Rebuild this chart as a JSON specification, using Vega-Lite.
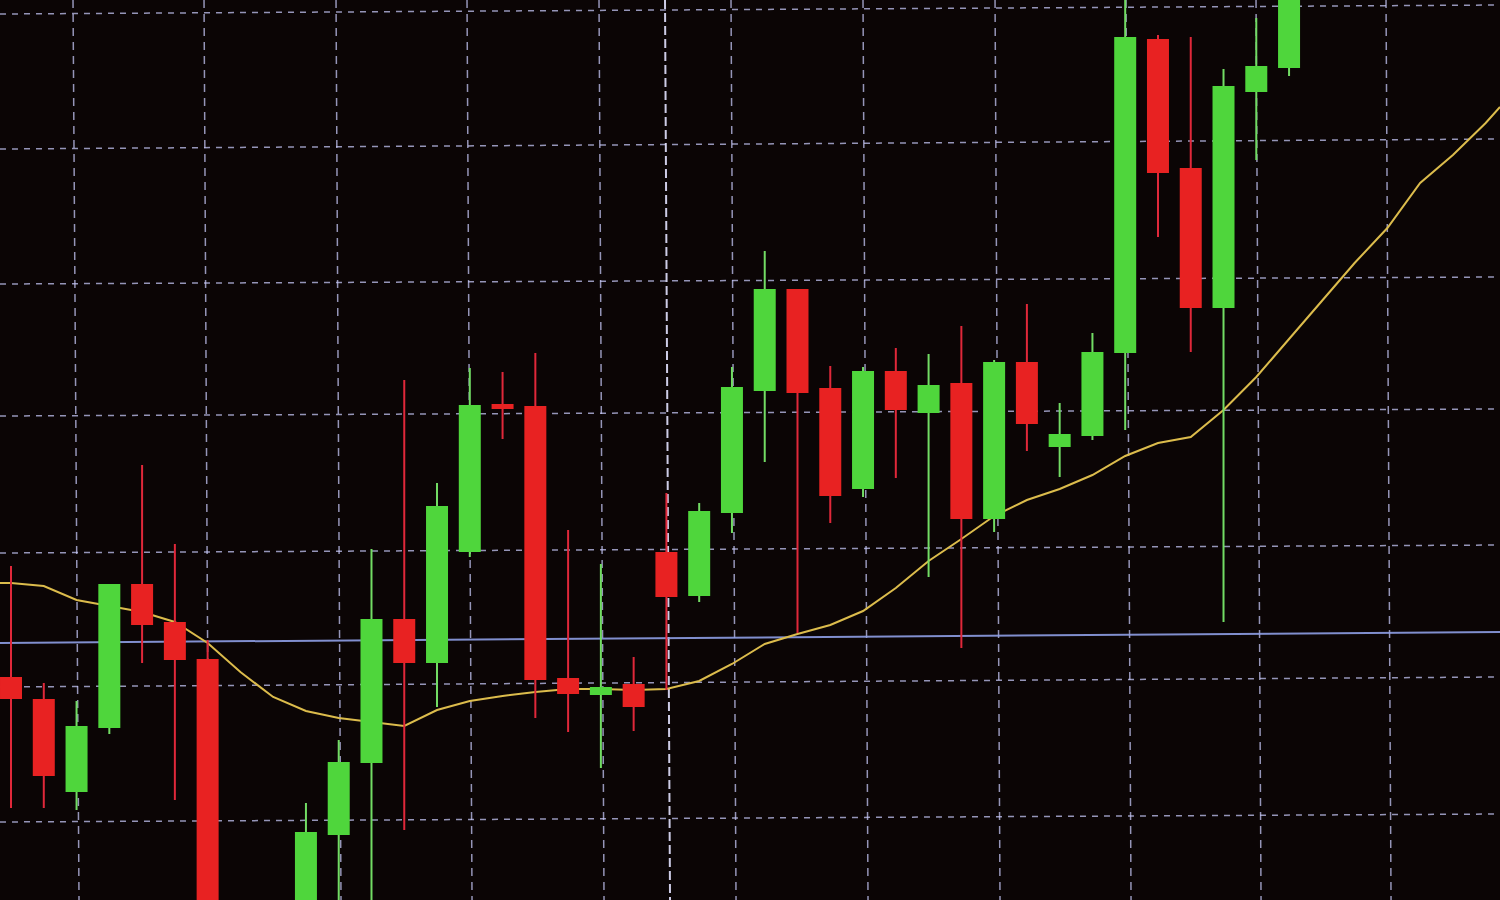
{
  "$schema": "https://vega.github.io/schema/vega-lite/v6.json",
  "width": 1500,
  "height": 900,
  "autosize": {"type": "fit", "contains": "padding"},
  "padding": 0,
  "background": "#0b0505",
  "config": {"view": {"stroke": null}, "scale": {"continuousPadding": 0}},
  "datasets": {
    "candles": [
      {"t": 0, "open": 223, "high": 334, "low": 92, "close": 201, "dir": "down"},
      {"t": 1, "open": 201, "high": 217, "low": 92, "close": 124, "dir": "down"},
      {"t": 2, "open": 108, "high": 199, "low": 90, "close": 174, "dir": "up"},
      {"t": 3, "open": 172, "high": 316, "low": 166, "close": 316, "dir": "up"},
      {"t": 4, "open": 316, "high": 435, "low": 237, "close": 275, "dir": "down"},
      {"t": 5, "open": 278, "high": 356, "low": 100, "close": 240, "dir": "down"},
      {"t": 6, "open": 241, "high": 260, "low": -80, "close": -60, "dir": "down"},
      {"t": 9, "open": -60, "high": 97, "low": -80, "close": 68, "dir": "up"},
      {"t": 10, "open": 65, "high": 160, "low": -40, "close": 138, "dir": "up"},
      {"t": 11, "open": 137, "high": 351, "low": -20, "close": 281, "dir": "up"},
      {"t": 12, "open": 281, "high": 520, "low": 70, "close": 237, "dir": "down"},
      {"t": 13, "open": 237, "high": 417, "low": 193, "close": 394, "dir": "up"},
      {"t": 14, "open": 348, "high": 532, "low": 343, "close": 495, "dir": "up"},
      {"t": 15, "open": 496, "high": 528, "low": 461, "close": 491, "dir": "down"},
      {"t": 16, "open": 494, "high": 547, "low": 182, "close": 220, "dir": "down"},
      {"t": 17, "open": 222, "high": 370, "low": 168, "close": 206, "dir": "down"},
      {"t": 18, "open": 205, "high": 336, "low": 132, "close": 213, "dir": "up"},
      {"t": 19, "open": 216, "high": 243, "low": 169, "close": 193, "dir": "down"},
      {"t": 20, "open": 348, "high": 407, "low": 210, "close": 303, "dir": "down"},
      {"t": 21, "open": 304, "high": 397, "low": 298, "close": 389, "dir": "up"},
      {"t": 22, "open": 387, "high": 533, "low": 367, "close": 513, "dir": "up"},
      {"t": 23, "open": 509, "high": 649, "low": 438, "close": 611, "dir": "up"},
      {"t": 24, "open": 611, "high": 611, "low": 267, "close": 507, "dir": "down"},
      {"t": 25, "open": 512, "high": 534, "low": 377, "close": 404, "dir": "down"},
      {"t": 26, "open": 411, "high": 533, "low": 403, "close": 529, "dir": "up"},
      {"t": 27, "open": 529, "high": 552, "low": 422, "close": 490, "dir": "down"},
      {"t": 28, "open": 487, "high": 546, "low": 323, "close": 515, "dir": "up"},
      {"t": 29, "open": 517, "high": 574, "low": 252, "close": 381, "dir": "down"},
      {"t": 30, "open": 381, "high": 540, "low": 368, "close": 538, "dir": "up"},
      {"t": 31, "open": 538, "high": 596, "low": 449, "close": 476, "dir": "down"},
      {"t": 32, "open": 453, "high": 497, "low": 423, "close": 466, "dir": "up"},
      {"t": 33, "open": 464, "high": 567, "low": 460, "close": 548, "dir": "up"},
      {"t": 34, "open": 547, "high": 930, "low": 470, "close": 863, "dir": "up"},
      {"t": 35, "open": 861, "high": 865, "low": 663, "close": 727, "dir": "down"},
      {"t": 36, "open": 732, "high": 863, "low": 548, "close": 592, "dir": "down"},
      {"t": 37, "open": 592, "high": 831, "low": 278, "close": 814, "dir": "up"},
      {"t": 38, "open": 808, "high": 882, "low": 740, "close": 834, "dir": "up"},
      {"t": 39, "open": 832, "high": 950, "low": 824, "close": 930, "dir": "up"}
    ],
    "ma": [
      {"t": -0.336, "ma": 317}, {"t": 0, "ma": 317}, {"t": 1, "ma": 314}, {"t": 2, "ma": 300},
      {"t": 3, "ma": 294}, {"t": 4, "ma": 288}, {"t": 5, "ma": 278}, {"t": 6, "ma": 257},
      {"t": 7, "ma": 228}, {"t": 8, "ma": 203}, {"t": 9, "ma": 189}, {"t": 10, "ma": 182},
      {"t": 11, "ma": 178}, {"t": 12, "ma": 174}, {"t": 13, "ma": 190}, {"t": 14, "ma": 199},
      {"t": 15, "ma": 204}, {"t": 16, "ma": 208}, {"t": 17, "ma": 211}, {"t": 18, "ma": 211},
      {"t": 19, "ma": 210}, {"t": 20, "ma": 211}, {"t": 21, "ma": 219}, {"t": 22, "ma": 236},
      {"t": 23, "ma": 256}, {"t": 24, "ma": 266}, {"t": 25, "ma": 275}, {"t": 26, "ma": 289},
      {"t": 27, "ma": 312}, {"t": 28, "ma": 339}, {"t": 29, "ma": 361}, {"t": 30, "ma": 384},
      {"t": 31, "ma": 400}, {"t": 32, "ma": 411}, {"t": 33, "ma": 425}, {"t": 34, "ma": 444},
      {"t": 35, "ma": 457}, {"t": 36, "ma": 463}, {"t": 37, "ma": 490}, {"t": 38, "ma": 523},
      {"t": 39, "ma": 561}, {"t": 40, "ma": 599}, {"t": 41, "ma": 637}, {"t": 42, "ma": 672},
      {"t": 43, "ma": 717}, {"t": 44, "ma": 745}, {"t": 45, "ma": 777}, {"t": 45.437, "ma": 793}
    ],
    "vgrid": [
      {"ttop": 1.892, "tbot": 2.075, "kind": "grid"},
      {"ttop": 5.890, "tbot": 6.042, "kind": "grid"},
      {"ttop": 9.918, "tbot": 10.070, "kind": "grid"},
      {"ttop": 13.915, "tbot": 14.068, "kind": "grid"},
      {"ttop": 17.943, "tbot": 18.096, "kind": "grid"},
      {"ttop": 19.957, "tbot": 20.110, "kind": "sep"},
      {"ttop": 21.971, "tbot": 22.124, "kind": "grid"},
      {"ttop": 25.999, "tbot": 26.152, "kind": "grid"},
      {"ttop": 30.028, "tbot": 30.180, "kind": "grid"},
      {"ttop": 34.025, "tbot": 34.178, "kind": "grid"},
      {"ttop": 37.992, "tbot": 38.145, "kind": "grid"},
      {"ttop": 41.959, "tbot": 42.112, "kind": "grid"}
    ],
    "hgrid": [
      {"vleft": 886, "vright": 895, "kind": "grid"},
      {"vleft": 751, "vright": 761, "kind": "grid"},
      {"vleft": 616, "vright": 623, "kind": "grid"},
      {"vleft": 484, "vright": 491, "kind": "grid"},
      {"vleft": 347, "vright": 355, "kind": "grid"},
      {"vleft": 213, "vright": 223, "kind": "grid"},
      {"vleft": 78, "vright": 86, "kind": "grid"},
      {"vleft": 257, "vright": 268, "kind": "level"}
    ]
  },
  "layer": [
    {
      "data": {"name": "hgrid"},
      "transform": [{"filter": "datum.kind === 'grid'"}],
      "mark": {"type": "rule", "color": "#c4c6f4", "strokeWidth": 1.5, "strokeDash": [6, 6], "opacity": 0.75, "clip": true},
      "encoding": {
        "x": {"datum": -0.336, "type": "quantitative", "scale": {"domain": [-0.336, 45.437], "nice": false, "zero": false, "padding": 0}, "axis": null},
        "x2": {"datum": 45.437},
        "y": {"field": "vleft", "type": "quantitative", "scale": {"domain": [0, 900], "nice": false, "zero": false, "padding": 0}, "axis": null},
        "y2": {"field": "vright"}
      }
    },
    {
      "data": {"name": "vgrid"},
      "transform": [{"filter": "datum.kind === 'grid'"}],
      "mark": {"type": "rule", "color": "#c4c6f4", "strokeWidth": 1.5, "strokeDash": [8, 6], "opacity": 0.75, "clip": true},
      "encoding": {
        "x": {"field": "ttop", "type": "quantitative", "scale": {"domain": [-0.336, 45.437], "nice": false, "zero": false, "padding": 0}, "axis": null},
        "x2": {"field": "tbot"},
        "y": {"datum": 900, "type": "quantitative", "scale": {"domain": [0, 900], "nice": false, "zero": false, "padding": 0}, "axis": null},
        "y2": {"datum": 0}
      }
    },
    {
      "data": {"name": "vgrid"},
      "transform": [{"filter": "datum.kind === 'sep'"}],
      "mark": {"type": "rule", "color": "#e2e2ff", "strokeWidth": 2, "strokeDash": [9, 4], "opacity": 0.9, "clip": true},
      "encoding": {
        "x": {"field": "ttop", "type": "quantitative", "scale": {"domain": [-0.336, 45.437], "nice": false, "zero": false, "padding": 0}, "axis": null},
        "x2": {"field": "tbot"},
        "y": {"datum": 900, "type": "quantitative", "scale": {"domain": [0, 900], "nice": false, "zero": false, "padding": 0}, "axis": null},
        "y2": {"datum": 0}
      }
    },
    {
      "data": {"name": "hgrid"},
      "transform": [{"filter": "datum.kind === 'level'"}],
      "mark": {"type": "rule", "color": "#8e9ee6", "strokeWidth": 2, "opacity": 0.9, "clip": true},
      "encoding": {
        "x": {"datum": -0.336, "type": "quantitative", "scale": {"domain": [-0.336, 45.437], "nice": false, "zero": false, "padding": 0}, "axis": null},
        "x2": {"datum": 45.437},
        "y": {"field": "vleft", "type": "quantitative", "scale": {"domain": [0, 900], "nice": false, "zero": false, "padding": 0}, "axis": null},
        "y2": {"field": "vright"}
      }
    },
    {
      "data": {"name": "ma"},
      "mark": {"type": "line", "color": "#dcbc4c", "strokeWidth": 2, "clip": true},
      "encoding": {
        "x": {"field": "t", "type": "quantitative", "scale": {"domain": [-0.336, 45.437], "nice": false, "zero": false, "padding": 0}, "axis": null},
        "y": {"field": "ma", "type": "quantitative", "scale": {"domain": [0, 900], "nice": false, "zero": false, "padding": 0}, "axis": null}
      }
    },
    {
      "data": {"name": "candles"},
      "mark": {"type": "rule", "strokeWidth": 2, "clip": true},
      "encoding": {
        "x": {"field": "t", "type": "quantitative", "scale": {"domain": [-0.336, 45.437], "nice": false, "zero": false, "padding": 0}, "axis": null},
        "y": {"field": "low", "type": "quantitative", "scale": {"domain": [0, 900], "nice": false, "zero": false, "padding": 0}, "axis": null},
        "y2": {"field": "high"},
        "color": {"field": "dir", "type": "nominal", "scale": {"domain": ["up", "down"], "range": ["#72dc64", "#e0283a"]}, "legend": null}
      }
    },
    {
      "data": {"name": "candles"},
      "mark": {"type": "bar", "size": 22, "clip": true},
      "encoding": {
        "x": {"field": "t", "type": "quantitative", "scale": {"domain": [-0.336, 45.437], "nice": false, "zero": false, "padding": 0}, "axis": null},
        "y": {"field": "open", "type": "quantitative", "scale": {"domain": [0, 900], "nice": false, "zero": false, "padding": 0}, "axis": null},
        "y2": {"field": "close"},
        "fill": {"field": "dir", "type": "nominal", "scale": {"domain": ["up", "down"], "range": ["#4fd63c", "#e82222"]}, "legend": null}
      }
    }
  ]
}
